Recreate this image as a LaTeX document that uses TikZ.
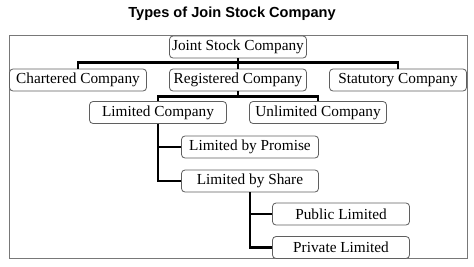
\documentclass[tikz,border=0pt]{standalone}
\usepackage{fontspec}
\setmainfont{Liberation Serif}
\newfontfamily\titlefont{Liberation Sans}
\usepackage{xcolor}
\usepackage{tikz}
\usetikzlibrary{positioning}
\definecolor{framegray}{RGB}{120,120,120}
\definecolor{boxgray}{RGB}{95,95,95}

\begin{document}
\begin{tikzpicture}[x=1pt, y=-1pt,
    box/.style={draw=boxgray, line width=0.8pt, rounded corners=3.5pt, fill=white,
        minimum width=137pt, minimum height=22pt, inner sep=0pt,
        font=\fontsize{15.3}{18}\selectfont},
    link/.style={black, line width=2.4pt}]
            \useasboundingbox (0,0) rectangle (474,266);
            \node[font=\titlefont\bfseries\fontsize{14.6}{17}\selectfont] (title) at (232,14) {Types of Join Stock Company};
            \draw[framegray, line width=1pt] (9,35) rectangle (467,258);
            \node[box] (joint) at (238,47) {Joint Stock Company};
            \node[box] (chartered) at (78,80) {Chartered Company};
            \node[box] (registered) at (238,80) {Registered Company};
            \node[box] (statutory) at (398,80) {Statutory Company};
            \node[box] (limited) at (158,112.5) {Limited Company};
            \node[box] (unlimited) at (318,112.5) {Unlimited Company};
            \node[box] (promise) at (250,147) {Limited by Promise};
            \node[box] (share) at (250,181) {Limited by Share};
            \node[box] (public) at (341,214) {Public Limited};
            \node[box] (private) at (341,247.5) {Private Limited};
            \foreach \c in {chartered, registered, statutory} {
                \draw[link] (joint.south) -- ++(0,4) -| (\c.north);
            }
            \foreach \c in {limited, unlimited} {
                \draw[link] (registered.south) -- ++(0,5) -| (\c.north);
            }
            \foreach \c in {promise, share} {
                \draw[link] (limited.south) |- (\c.west);
            }
            \foreach \c in {public, private} {
                \draw[link] (share.south) |- (\c.west);
            }
\end{tikzpicture}
\end{document}
